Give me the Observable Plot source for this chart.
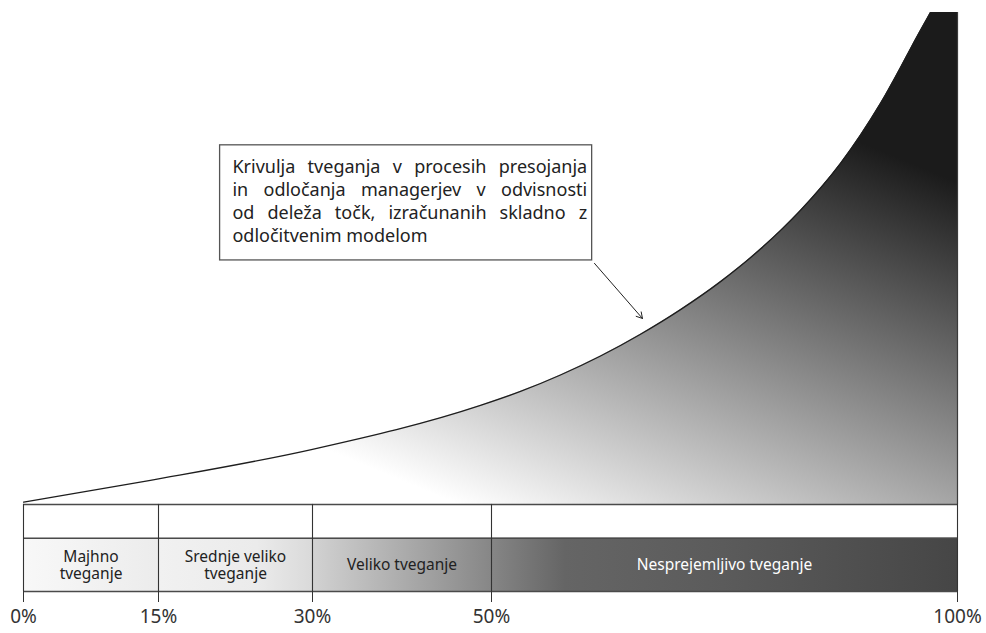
<!DOCTYPE html>
<html>
<head>
<meta charset="utf-8">
<script src="https://cdn.jsdelivr.net/npm/d3@7"></script>
<script src="https://cdn.jsdelivr.net/npm/@observablehq/plot@0.6"></script>
<style>
  html, body { margin: 0; padding: 0; background: #fff; }
  #chart { width: 986px; height: 633px; }
</style>
</head>
<body>
<div id="chart"></div>
<script>
// Share of points computed by the decision model (%) — axis ticks
const ticks = [0, 15, 30, 50, 100];
const tickLabels = ["0%", "15%", "30%", "50%", "100%"];

// Risk curve: share of points (%) and relative risk level (runs off the top at the right edge)
const curveX = [0, 14.1, 30, 48.77, 53.11, 57.40, 61.70, 65.99, 70.28, 74.57, 78.86, 83.15, 87.45, 91.74, 96.03, 97.10, 100];
const curveY = [0.47, 4.9, 11.2, 20.13, 22.97, 26.31, 30.17, 34.60, 39.60, 45.29, 51.92, 59.77, 69.32, 81.52, 96.36, 100, 111];

// Risk zones
const zoneNames = ["Majhno\ntveganje", "Srednje veliko\ntveganje", "Veliko tveganje", "Nesprejemljivo tveganje"];
const zoneFrom = [0, 15, 30, 50];
const zoneTo = [15, 30, 50, 100];

// Callout text
const calloutLines = [
  "Krivulja tveganja v procesih presojanja",
  "in odločanja managerjev v odvisnosti",
  "od deleža točk, izračunanih skladno z",
  "odločitvenim modelom"
];

const curve = curveX.map((x, i) => ({x, y: curveY[i]}));
const zones = zoneNames.map((name, i) => ({name, from: zoneFrom[i], to: zoneTo[i], mid: (zoneFrom[i] + zoneTo[i]) / 2}));

// Band below the curve: a blank row and a row with the zone names (y units, 0 = curve baseline)
const bandMid = -6.85;
const bandBottom = -17.7;

// Callout box and its pointer onto the curve
const callout = {
  x1: 21.0, x2: 60.8, y1: 49.6, y2: 73.0,
  textX: 22.2, textY: 70.6,
  fromX: 61.05, fromY: 49.0, toX: 66.2, toY: 37.8,
  text: calloutLines.join("\n")
};

const plot = Plot.plot({
  width: 986,
  height: 633,
  marginTop: 12,
  marginBottom: 42,
  marginLeft: 23,
  marginRight: 29,
  style: {fontFamily: "'Noto Sans', sans-serif", background: "white", overflow: "visible"},
  // piecewise-linear share axis
  x: {type: "linear", domain: ticks, range: [23, 158, 312, 491, 957]},
  y: {type: "linear", domain: [bandBottom, 100], axis: null},
  marks: [
    // zone row
    Plot.rect(zones, {x1: "from", x2: "to", y1: bandBottom, y2: bandMid, fill: "url(#bandFill)"}),
    // risk curve area
    Plot.areaY(curve, {x: "x", y: "y", fill: "url(#riskFill)", curve: "monotone-x", clip: true}),
    Plot.lineY(curve, {x: "x", y: "y", stroke: "#1e1e1e", strokeWidth: 1.3, curve: "monotone-x", clip: true}),
    Plot.ruleX([100], {y1: 0, y2: 100, stroke: "#3a3a3a", strokeWidth: 1.2}),
    // band grid
    Plot.ruleY([0, bandMid, bandBottom], {x1: 0, x2: 100, stroke: "#4a4a4a", strokeWidth: 1.5}),
    Plot.ruleX(ticks, {y1: bandBottom, y2: 0, stroke: "#333", strokeWidth: 1.1}),
    Plot.axisX({ticks, tickFormat: (d, i) => tickLabels[i], tickSize: 11, tickPadding: 7, fontSize: 19, stroke: "#333", fill: "#333"}),
    // zone labels
    Plot.text(zones.slice(0, 3), {x: "mid", y: (bandMid + bandBottom) / 2, text: "name", fontSize: 15.5, lineHeight: 1.08, fill: "#222"}),
    Plot.text(zones.slice(3), {x: "mid", y: (bandMid + bandBottom) / 2, text: "name", fontSize: 15.5, lineHeight: 1.08, fill: "white"}),
    // callout
    Plot.rect([callout], {x1: "x1", x2: "x2", y1: "y1", y2: "y2", fill: "white", stroke: "#555", strokeWidth: 1.3}),
    Plot.text([callout], {x: "textX", y: "textY", text: "text", textAnchor: "start", lineAnchor: "top", fontSize: 18, lineHeight: 1.27, fill: "#222"}),
    Plot.arrow([callout], {x1: "fromX", y1: "fromY", x2: "toX", y2: "toY", stroke: "#222", strokeWidth: 1, headLength: 10})
  ]
});

// gradients used by the curve area and the zone row
const defs = d3.select(plot).insert("defs", ":first-child");
const risk = defs.append("linearGradient")
  .attr("id", "riskFill").attr("gradientUnits", "userSpaceOnUse")
  .attr("x1", 480).attr("y1", 513).attr("x2", 666).attr("y2", 62);
risk.append("stop").attr("offset", 0).attr("stop-color", "#ffffff");
risk.append("stop").attr("offset", 1).attr("stop-color", "#1b1b1b");

const band = defs.append("linearGradient")
  .attr("id", "bandFill").attr("gradientUnits", "userSpaceOnUse")
  .attr("x1", 23).attr("y1", 0).attr("x2", 957).attr("y2", 0);
[[0, "#f8f8f8"], [0.144, "#ececec"], [0.146, "#f1f1f1"], [0.25, "#ebebeb"], [0.308, "#dadada"],
 [0.31, "#d2d2d2"], [0.50, "#878787"], [0.51, "#828282"], [0.58, "#656565"], [0.75, "#5b5b5b"], [1, "#464646"]]
  .forEach(([o, c]) => band.append("stop").attr("offset", o).attr("stop-color", c));

document.getElementById("chart").appendChild(plot);

// justify the callout paragraph (all lines but the last)
const xs = plot.scale("x");
const lineWidth = xs.apply(callout.x2) - xs.apply(callout.textX) - 5;
d3.select(plot).selectAll("text").each(function() {
  const spans = this.querySelectorAll("tspan");
  if (spans.length !== calloutLines.length) return;
  spans.forEach((s, i) => {
    if (i === spans.length - 1) return;
    const w = s.getComputedTextLength();
    const gaps = (s.textContent.match(/ /g) || []).length;
    if (gaps > 0 && w < lineWidth) s.setAttribute("word-spacing", (lineWidth - w) / gaps);
  });
});
</script>
</body>
</html>
